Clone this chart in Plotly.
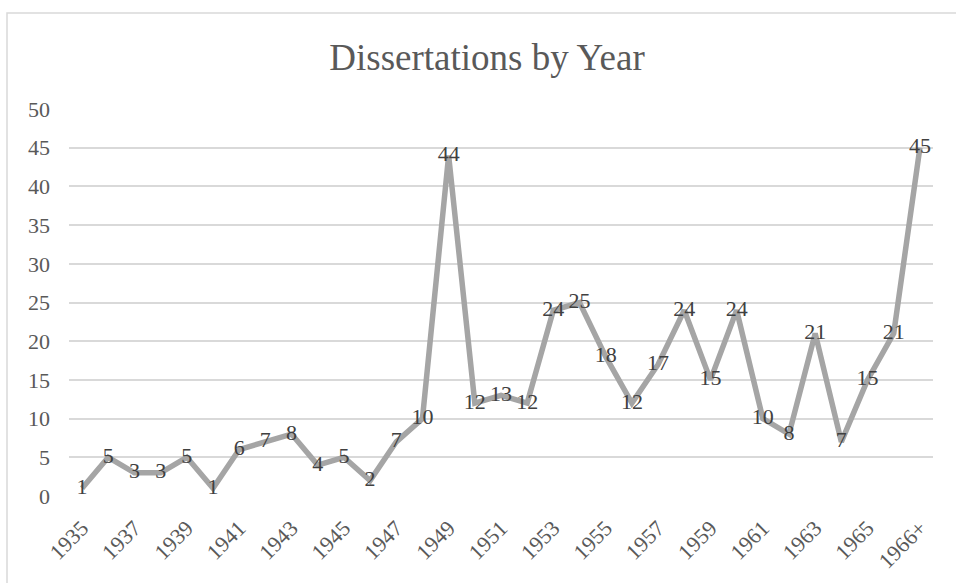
import plotly.graph_objects as go

categories = [str(y) for y in range(1935, 1967)] + ["1966+"]
values = [1, 5, 3, 3, 5, 1, 6, 7, 8, 4, 5, 2, 7, 10, 44, 12, 13, 12, 24, 25,
          18, 12, 17, 24, 15, 24, 10, 8, 21, 7, 15, 21, 45]
tick_labels = categories[::2]
y_ticks = list(range(0, 51, 5))

FONT = "Liberation Serif, Times New Roman, serif"

fig = go.Figure(go.Scatter(
    x=categories, y=values, mode="lines+text",
    line=dict(color="#A5A5A5", width=5.5),
    text=[str(v) for v in values], textposition="middle center",
    textfont=dict(family=FONT, size=22, color="#404040"),
    hoverinfo="x+y", cliponaxis=False,
))

W, H = 956, 583
ml, mr, mt, mb = 69, 23, 109, 87
pw, ph = W - ml - mr, H - mt - mb

fig.update_layout(
    width=W, height=H,
    margin=dict(l=ml, r=mr, t=mt, b=mb),
    paper_bgcolor="white", plot_bgcolor="white",
    showlegend=False,
    font=dict(family=FONT),
    title=dict(text="Dissertations by Year", x=487 / W, xanchor="center",
               y=1 - 57 / H, yanchor="middle",
               font=dict(family=FONT, size=37, color="#595959")),
    xaxis=dict(type="category", categoryorder="array", categoryarray=categories,
               range=[-0.5, len(categories) - 0.5], automargin=False,
               tickmode="array", tickvals=tick_labels, ticktext=tick_labels,
               tickangle=-45, showgrid=False, zeroline=False,
               showline=False, ticks="", ticklabelstandoff=14,
               tickfont=dict(family=FONT, size=22, color="#595959")),
    yaxis=dict(range=[0, 50], tickmode="array", tickvals=y_ticks,
               automargin=False,
               showgrid=True, gridcolor="#D9D9D9", gridwidth=1.5,
               zeroline=False, showline=False, ticks="",
               ticklabelstandoff=18,
               tickfont=dict(family=FONT, size=22, color="#595959")),
    shapes=[dict(type="rect", xref="paper", yref="paper",
                 x0=(7 - ml) / pw, x1=(990 - ml) / pw,
                 y0=(H - mb - 620) / ph, y1=(H - mb - 13) / ph,
                 line=dict(color="#D9D9D9", width=1.5), layer="below")],
)

fig.write_html("out.html")
